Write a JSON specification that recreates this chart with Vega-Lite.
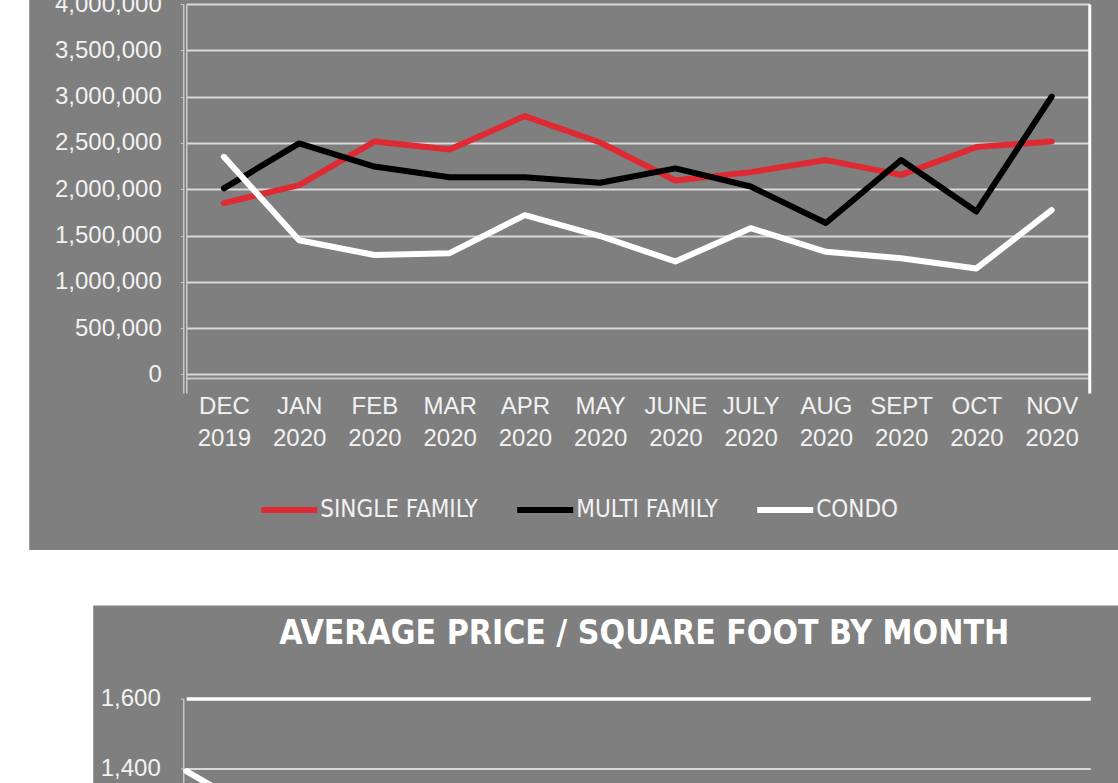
{
  "$schema": "https://vega.github.io/schema/vega-lite/v6.json",
  "background": "#ffffff",
  "padding": {"left": -102.75, "top": -165, "right": -125, "bottom": -600},
  "autosize": {"type": "pad"},
  "spacing": -155.5,
  "resolve": {"scale": {"color": "independent"}, "legend": {"color": "independent"}},
  "config": {
    "view": {"stroke": null},
    "axis": {"labelFont": "Liberation Sans", "labelFontSize": 24, "labelColor": "#f2f2f2", "domainColor": "#c8c8c8", "domainWidth": 1.5, "tickColor": "#c8c8c8", "gridColor": "#d9d9d9", "gridWidth": 2},
    "line": {"strokeWidth": 6, "strokeCap": "round", "strokeJoin": "round"}
  },
  "datasets": {
    "price": [
      {"month": "DEC 2019", "type": "SINGLE FAMILY", "value": 1850000},
      {"month": "JAN 2020", "type": "SINGLE FAMILY", "value": 2045000},
      {"month": "FEB 2020", "type": "SINGLE FAMILY", "value": 2515000},
      {"month": "MAR 2020", "type": "SINGLE FAMILY", "value": 2430000},
      {"month": "APR 2020", "type": "SINGLE FAMILY", "value": 2790000},
      {"month": "MAY 2020", "type": "SINGLE FAMILY", "value": 2505000},
      {"month": "JUNE 2020", "type": "SINGLE FAMILY", "value": 2095000},
      {"month": "JULY 2020", "type": "SINGLE FAMILY", "value": 2185000},
      {"month": "AUG 2020", "type": "SINGLE FAMILY", "value": 2315000},
      {"month": "SEPT 2020", "type": "SINGLE FAMILY", "value": 2155000},
      {"month": "OCT 2020", "type": "SINGLE FAMILY", "value": 2455000},
      {"month": "NOV 2020", "type": "SINGLE FAMILY", "value": 2515000},
      {"month": "DEC 2019", "type": "MULTI FAMILY", "value": 2010000},
      {"month": "JAN 2020", "type": "MULTI FAMILY", "value": 2495000},
      {"month": "FEB 2020", "type": "MULTI FAMILY", "value": 2245000},
      {"month": "MAR 2020", "type": "MULTI FAMILY", "value": 2130000},
      {"month": "APR 2020", "type": "MULTI FAMILY", "value": 2130000},
      {"month": "MAY 2020", "type": "MULTI FAMILY", "value": 2070000},
      {"month": "JUNE 2020", "type": "MULTI FAMILY", "value": 2225000},
      {"month": "JULY 2020", "type": "MULTI FAMILY", "value": 2030000},
      {"month": "AUG 2020", "type": "MULTI FAMILY", "value": 1635000},
      {"month": "SEPT 2020", "type": "MULTI FAMILY", "value": 2315000},
      {"month": "OCT 2020", "type": "MULTI FAMILY", "value": 1760000},
      {"month": "NOV 2020", "type": "MULTI FAMILY", "value": 3000000},
      {"month": "DEC 2019", "type": "CONDO", "value": 2350000},
      {"month": "JAN 2020", "type": "CONDO", "value": 1450000},
      {"month": "FEB 2020", "type": "CONDO", "value": 1290000},
      {"month": "MAR 2020", "type": "CONDO", "value": 1310000},
      {"month": "APR 2020", "type": "CONDO", "value": 1720000},
      {"month": "MAY 2020", "type": "CONDO", "value": 1495000},
      {"month": "JUNE 2020", "type": "CONDO", "value": 1220000},
      {"month": "JULY 2020", "type": "CONDO", "value": 1580000},
      {"month": "AUG 2020", "type": "CONDO", "value": 1325000},
      {"month": "SEPT 2020", "type": "CONDO", "value": 1255000},
      {"month": "OCT 2020", "type": "CONDO", "value": 1145000},
      {"month": "NOV 2020", "type": "CONDO", "value": 1775000}
    ],
    "ppsf": [
      {"month": "DEC 2019", "type": "CONDO", "value": 1391},
      {"month": "JAN 2020", "type": "CONDO", "value": 1254}
    ]
  },
  "vconcat": [
    {
      "width": 903,
      "height": 389,
      "view": {"fill": "#7f7f7f", "stroke": "#7f7f7f", "strokeWidth": 314},
      "data": {"name": "price"},
      "encoding": {
        "x": {
          "field": "month", "type": "ordinal", "title": null,
          "scale": {"domain": ["DEC 2019", "JAN 2020", "FEB 2020", "MAR 2020", "APR 2020", "MAY 2020", "JUNE 2020", "JULY 2020", "AUG 2020", "SEPT 2020", "OCT 2020", "NOV 2020"], "padding": 0.5},
          "axis": {"orient": "bottom", "offset": -15, "labelAngle": 0, "ticks": false, "domainWidth": 2, "labelExpr": "split(datum.label, ' ')", "labelLineHeight": 32, "labelPadding": 16, "grid": false}
        },
        "color": {
          "field": "type", "type": "nominal",
          "scale": {"domain": ["SINGLE FAMILY", "MULTI FAMILY", "CONDO"], "range": ["#df2a33", "#000000", "#ffffff"]},
          "legend": {"orient": "none", "legendX": 72, "legendY": 475, "direction": "horizontal", "title": null, "labelFont": "DejaVu Sans Condensed, Liberation Sans", "labelFontSize": 24, "labelLimit": 400, "labelColor": "#f2f2f2", "symbolType": "stroke", "symbolStrokeWidth": 6, "symbolSize": 3136, "labelOffset": 0, "columnPadding": 36}
        }
      },
      "layer": [
        {
          "transform": [{"filter": "datum.type == 'SINGLE FAMILY'"}],
          "mark": "line",
          "encoding": {"y": {"field": "value", "type": "quantitative", "title": null, "scale": {"domain": [-199800, 4000000], "nice": false, "zero": false}, "axis": {"orient": "left", "offset": 0, "labels": false, "ticks": false, "grid": false}}}
        },
        {
          "transform": [{"filter": "datum.type == 'MULTI FAMILY'"}],
          "mark": "line",
          "encoding": {"y": {"field": "value", "type": "quantitative", "title": null, "axis": {"orient": "left", "offset": 3, "values": [0, 500000, 1000000, 1500000, 2000000, 2500000, 3000000, 3500000, 4000000], "format": ",d", "tickSize": 3, "labelPadding": 19, "grid": true}}}
        },
        {
          "transform": [{"filter": "datum.type == 'CONDO'"}],
          "mark": "line",
          "encoding": {"y": {"field": "value", "type": "quantitative", "title": null, "axis": {"orient": "right", "labels": false, "ticks": false, "grid": false, "domainColor": "#ffffff", "domainWidth": 3}}}
        }
      ],
      "resolve": {"axis": {"y": "independent"}}
    },
    {
      "width": 904,
      "height": 556,
      "view": {"fill": "#7f7f7f", "stroke": "#7f7f7f", "strokeWidth": 186},
      "title": {"text": "AVERAGE PRICE / SQUARE FOOT BY MONTH", "font": "DejaVu Sans Condensed, Liberation Sans", "fontWeight": "bold", "fontSize": 33.5, "color": "#ffffff", "anchor": "middle", "frame": "group", "dx": 6, "offset": 2, "baseline": "bottom"},
      "data": {"name": "ppsf"},
      "mark": {"type": "line", "color": "#ffffff"},
      "encoding": {
        "x": {
          "field": "month", "type": "ordinal", "title": null,
          "scale": {"domain": ["DEC 2019", "JAN 2020", "FEB 2020", "MAR 2020", "APR 2020", "MAY 2020", "JUNE 2020", "JULY 2020", "AUG 2020", "SEPT 2020", "OCT 2020", "NOV 2020"], "padding": 0},
          "axis": {"orient": "bottom", "offset": 4, "labelAngle": 0, "ticks": false, "domainWidth": 2, "labelExpr": "split(datum.label, ' ')", "labelLineHeight": 32, "labelPadding": 16, "grid": false}
        },
        "y": {
          "field": "value", "type": "quantitative", "title": null,
          "scale": {"domain": [0, 1600], "nice": false},
          "axis": {
            "values": [0, 200, 400, 600, 800, 1000, 1200, 1400, 1600], "format": ",d", "offset": 3, "tickSize": 3, "labelPadding": 20, "grid": true,
            "gridColor": {"condition": {"test": "datum.value === 1600", "value": "#ffffff"}, "value": "#d9d9d9"},
            "gridWidth": {"condition": {"test": "datum.value === 1600", "value": 3.5}, "value": 2}
          }
        }
      }
    }
  ]
}
